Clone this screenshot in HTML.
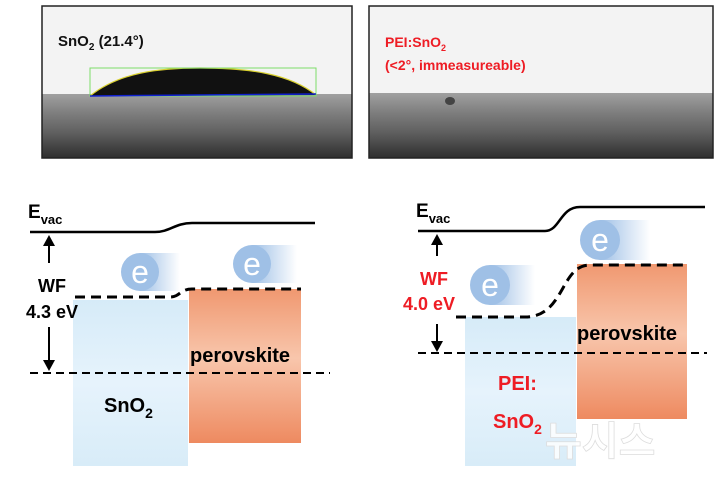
<!DOCTYPE html>
<html><head><meta charset="utf-8"><style>
body{margin:0;background:#fff}
svg{display:block;font-family:"Liberation Sans",sans-serif;font-weight:bold}
</style></head><body>
<svg width="720" height="480" viewBox="0 0 720 480">
<defs>
<linearGradient id="sub" x1="0" y1="0" x2="0" y2="1">
<stop offset="0" stop-color="#a0a0a0"/><stop offset="0.3" stop-color="#7e7e7e"/><stop offset="0.6" stop-color="#606060"/><stop offset="1" stop-color="#2e2e2e"/></linearGradient>
<linearGradient id="blu" x1="0" y1="0" x2="0" y2="1">
<stop offset="0" stop-color="#d6ebf8"/><stop offset="0.5" stop-color="#e6f3fc"/><stop offset="1" stop-color="#d8ecf8"/></linearGradient>
<linearGradient id="org" x1="0" y1="0" x2="0" y2="1">
<stop offset="0" stop-color="#f09870"/><stop offset="0.45" stop-color="#f8c6ac"/><stop offset="1" stop-color="#ee8a60"/></linearGradient>
<linearGradient id="tail" x1="0" y1="0" x2="1" y2="0">
<stop offset="0" stop-color="#9fc0e6"/><stop offset="1" stop-color="#9fc0e6" stop-opacity="0"/></linearGradient>
</defs>
<!-- photo panels -->
<rect x="42" y="6" width="310" height="152" fill="#f3f3f3"/>
<rect x="42" y="94" width="310" height="64" fill="url(#sub)"/>
<rect x="42" y="6" width="310" height="152" fill="none" stroke="#222" stroke-width="1.5"/>
<path d="M90,96 C120,72 160,68 200,68 C250,68 290,74 316,95 Z" fill="#111"/>
<path d="M90,96 C120,72 160,68 200,68 C250,68 290,74 316,95" fill="none" stroke="#d8d030" stroke-width="1.2"/>
<rect x="90" y="68" width="226" height="28" fill="none" stroke="#7ddc6a" stroke-width="1"/>
<line x1="90" y1="96" x2="316" y2="94" stroke="#1020d0" stroke-width="1.5"/>
<text x="58" y="46" font-size="15" fill="#111">SnO<tspan font-size="10" dy="4">2</tspan><tspan dy="-4"> (21.4°)</tspan></text>
<rect x="369" y="6" width="344" height="152" fill="#f3f3f3"/>
<rect x="369" y="93" width="344" height="65" fill="url(#sub)"/>
<rect x="369" y="6" width="344" height="152" fill="none" stroke="#222" stroke-width="1.5"/>
<ellipse cx="450" cy="101" rx="5" ry="4" fill="#444"/>
<text x="385" y="47" font-size="14" fill="#ee1c24">PEI:SnO<tspan font-size="9" dy="4">2</tspan></text>
<text x="385" y="70" font-size="14" fill="#ee1c24">(&lt;2°, immeasureable)</text>

<!-- left diagram -->
<rect x="73" y="300" width="115" height="166" fill="url(#blu)"/>
<rect x="189" y="289" width="112" height="154" fill="url(#org)"/>
<path d="M30,232 H155 C170,232 175,223 192,223 H315" fill="none" stroke="#000" stroke-width="2.5"/>
<text x="28" y="218" font-size="19" fill="#000">E<tspan font-size="13" dy="6">vac</tspan></text>
<line x1="49" y1="240" x2="49" y2="263" stroke="#000" stroke-width="2"/>
<path d="M43,246 L49,235 L55,246 Z" fill="#000"/>
<line x1="49" y1="327" x2="49" y2="365" stroke="#000" stroke-width="2"/>
<path d="M43,360 L49,371 L55,360 Z" fill="#000"/>
<text x="38" y="292" font-size="18" fill="#000">WF</text>
<text x="26" y="318" font-size="18" fill="#000">4.3 eV</text>
<path d="M75,297 H170 C180,297 180,289 192,289 H301" fill="none" stroke="#000" stroke-width="3" stroke-dasharray="10,6"/>
<line x1="30" y1="373" x2="330" y2="373" stroke="#000" stroke-width="2" stroke-dasharray="8,5"/>
<text x="190" y="362" font-size="20" fill="#000">perovskite</text>
<text x="104" y="412" font-size="20" fill="#000">SnO<tspan font-size="14" dy="6">2</tspan></text>
<rect x="140" y="253" width="40" height="38" fill="url(#tail)"/>
<circle cx="140" cy="272" r="19" fill="#9fc0e6"/>
<text x="140" y="283" font-size="32" font-weight="normal" fill="#fff" text-anchor="middle">e</text>
<rect x="252" y="245" width="45" height="38" fill="url(#tail)"/>
<circle cx="252" cy="264" r="19" fill="#9fc0e6"/>
<text x="252" y="275" font-size="32" font-weight="normal" fill="#fff" text-anchor="middle">e</text>

<!-- right diagram -->
<rect x="465" y="317" width="111" height="149" fill="url(#blu)"/>
<rect x="577" y="264" width="110" height="155" fill="url(#org)"/>
<path d="M418,231 H545 C560,231 560,207 580,207 H705" fill="none" stroke="#000" stroke-width="2.5"/>
<text x="416" y="217" font-size="19" fill="#000">E<tspan font-size="13" dy="6">vac</tspan></text>
<line x1="437" y1="240" x2="437" y2="256" stroke="#000" stroke-width="2"/>
<path d="M431,245 L437,234 L443,245 Z" fill="#000"/>
<line x1="437" y1="324" x2="437" y2="345" stroke="#000" stroke-width="2"/>
<path d="M431,341 L437,352 L443,341 Z" fill="#000"/>
<text x="420" y="285" font-size="18" fill="#ee1c24">WF</text>
<text x="403" y="310" font-size="18" fill="#ee1c24">4.0 eV</text>
<rect x="490" y="265" width="45" height="40" fill="url(#tail)"/>
<circle cx="490" cy="285" r="20" fill="#9fc0e6"/>
<text x="490" y="296" font-size="32" font-weight="normal" fill="#fff" text-anchor="middle">e</text>
<rect x="600" y="220" width="50" height="40" fill="url(#tail)"/>
<circle cx="600" cy="240" r="20" fill="#9fc0e6"/>
<text x="600" y="251" font-size="32" font-weight="normal" fill="#fff" text-anchor="middle">e</text>
<path d="M456,317 H525 C565,317 560,265 590,265 H687" fill="none" stroke="#000" stroke-width="3" stroke-dasharray="10,6"/>
<line x1="418" y1="353" x2="707" y2="353" stroke="#000" stroke-width="2" stroke-dasharray="8,5"/>
<text x="577" y="340" font-size="20" fill="#000">perovskite</text>
<text x="498" y="390" font-size="20" fill="#ee1c24">PEI:</text>
<text x="493" y="428" font-size="20" fill="#ee1c24">SnO<tspan font-size="14" dy="6">2</tspan></text>
<text x="545" y="455" font-size="40" fill="#fff" fill-opacity="0.8" stroke="#ddd" stroke-width="0.8" font-family="'Noto Sans CJK KR',sans-serif">뉴시스</text>
</svg>
</body></html>
